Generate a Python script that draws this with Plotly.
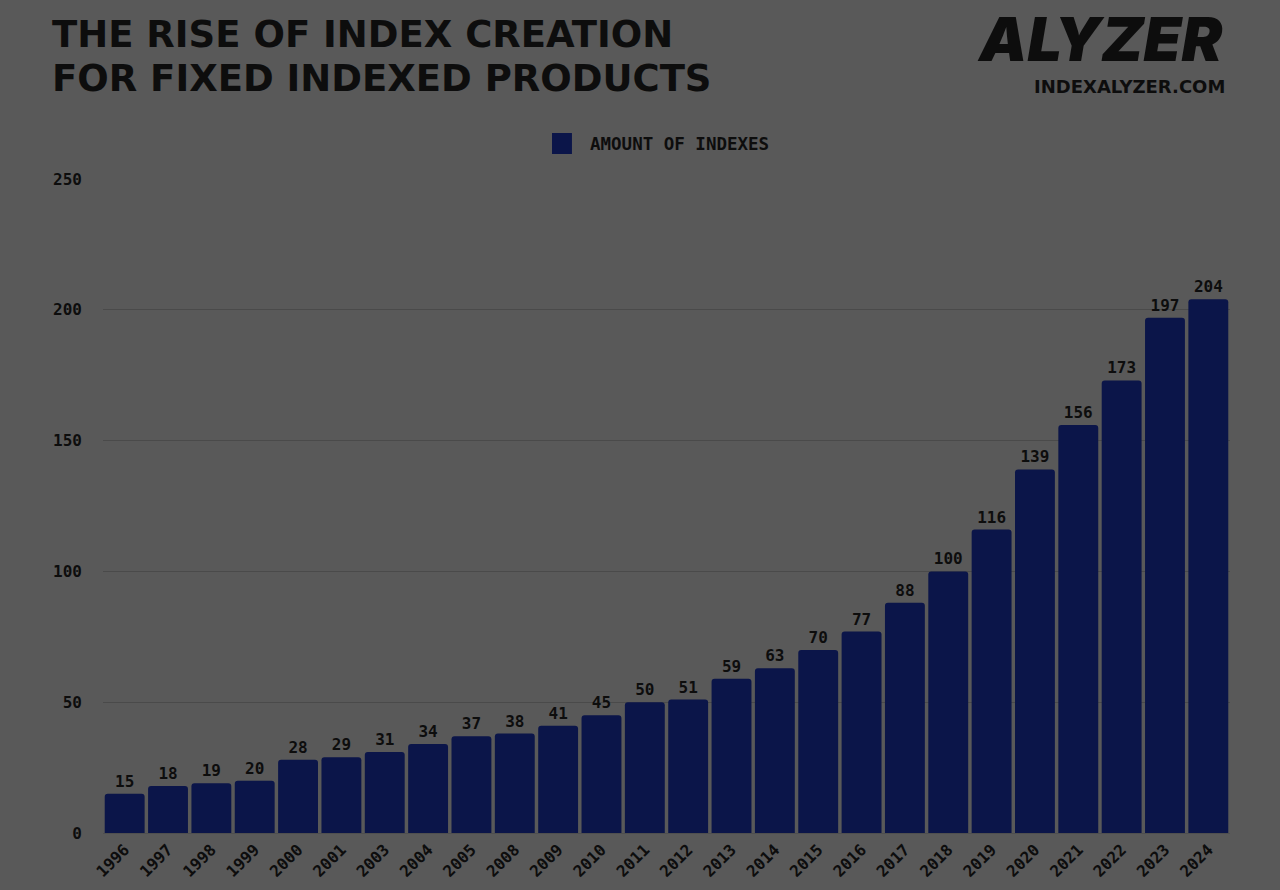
import plotly.graph_objects as go

# data
years = ["1996", "1997", "1998", "1999", "2000", "2001", "2003", "2004", "2005",
         "2008", "2009", "2010", "2011", "2012", "2013", "2014", "2015", "2016",
         "2017", "2018", "2019", "2020", "2021", "2022", "2023", "2024"]
amount_of_indexes = [15, 18, 19, 20, 28, 29, 31, 34, 37, 38, 41, 45, 50, 51, 59,
                     63, 70, 77, 88, 100, 116, 139, 156, 173, 197, 204]
y_ticks = [0, 50, 100, 150, 200, 250]
series_name = "AMOUNT OF INDEXES"

bg = "#595959"
bar_color = "#0b1549"
ink = "#0d0d0d"
mono = "DejaVu Sans Mono"

fig = go.Figure()
fig.add_trace(go.Bar(
    x=years,
    y=amount_of_indexes,
    name=series_name,
    marker=dict(color=bar_color, cornerradius=3, line=dict(width=0)),
    text=amount_of_indexes,
    textposition="outside",
    textfont=dict(family=mono, size=16, color=ink, weight="bold"),
    cliponaxis=False,
    showlegend=False,
))

# legend swatch + label drawn by hand so the square matches the original size
fig.add_shape(
    type="rect", xref="paper", yref="paper",
    x0=0.3984, x1=0.4161, y0=1.0382, y1=1.0703,
    fillcolor=bar_color, line=dict(width=0), layer="above",
)

fig.update_layout(
    width=1280,
    height=890,
    paper_bgcolor=bg,
    plot_bgcolor=bg,
    margin=dict(l=103, r=50, t=179, b=57),
    bargap=0.08,
    xaxis=dict(
        type="category",
        tickangle=-45,
        tickfont=dict(family=mono, size=16, color=ink, weight="bold"),
        showgrid=False,
        showline=True,
        linecolor="#4f4f4f",
        linewidth=1,
        ticks="",
        automargin=False,
    ),
    yaxis=dict(
        range=[0, 250],
        tickvals=y_ticks,
        tickfont=dict(family=mono, size=16, color=ink, weight="bold"),
        gridcolor="#4a4a4a",
        gridwidth=1,
        zeroline=False,
        ticks="",
        ticklabelstandoff=20,
        automargin=False,
    ),
    annotations=[
        dict(
            text="THE RISE OF INDEX CREATION",
            xref="paper", yref="paper", x=-0.047, y=1.2217,
            xanchor="left", yanchor="middle", showarrow=False,
            font=dict(family="DejaVu Sans", size=37, color=ink, weight="bold"),
        ),
        dict(
            text="FOR FIXED INDEXED PRODUCTS",
            xref="paper", yref="paper", x=-0.047, y=1.1537,
            xanchor="left", yanchor="middle", showarrow=False,
            font=dict(family="DejaVu Sans", size=37, color=ink, weight="bold"),
        ),
        dict(
            text="<i>ALYZER</i>",
            xref="paper", yref="paper", x=0.9975, y=1.214,
            xanchor="right", yanchor="middle", showarrow=False,
            font=dict(family="Inter", size=61, color=ink, weight=900),
        ),
        dict(
            text="INDEXALYZER.COM",
            xref="paper", yref="paper", x=0.9975, y=1.1407,
            xanchor="right", yanchor="middle", showarrow=False,
            font=dict(family="DejaVu Sans", size=18, color=ink, weight="bold"),
        ),
        dict(
            text=series_name,
            xref="paper", yref="paper", x=0.4303, y=1.0535,
            xanchor="left", yanchor="middle", showarrow=False,
            font=dict(family=mono, size=17.5, color=ink, weight="bold"),
        ),
    ],
)

fig.write_html(
    "out.html",
    config={"displayModeBar": False},
    post_script="document.body.style.margin='0';document.body.style.background='%s';" % bg,
)
